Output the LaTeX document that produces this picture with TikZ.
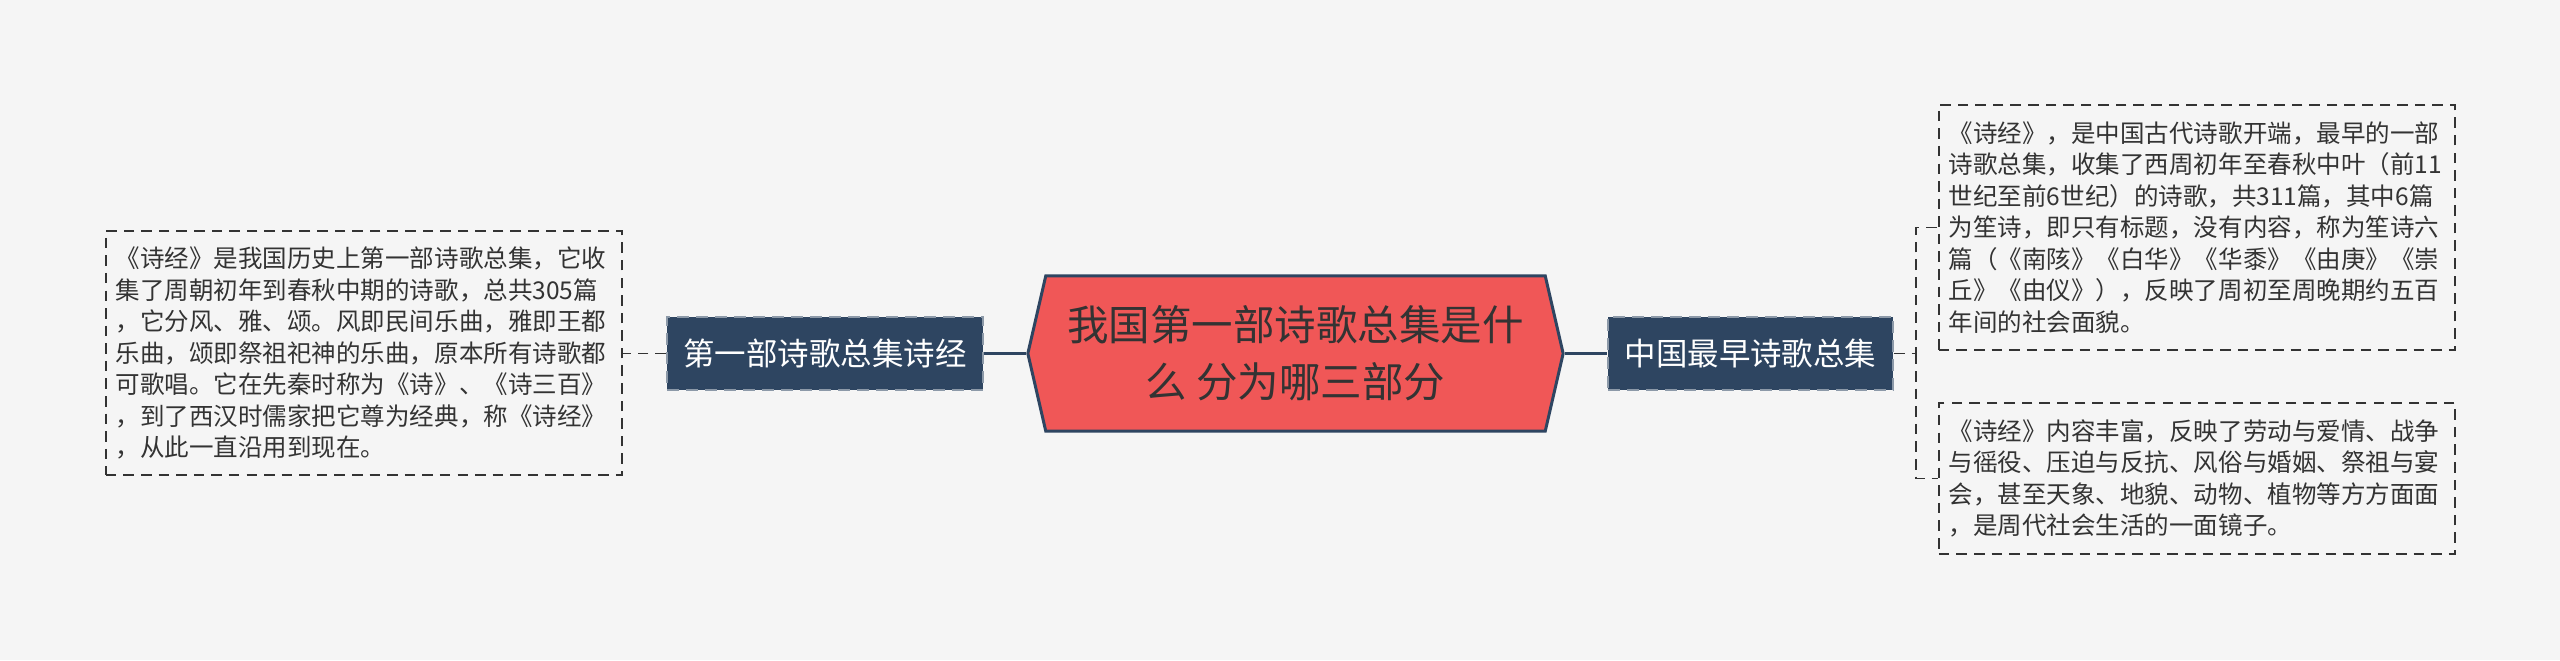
\documentclass[tikz,border=0pt]{standalone}
\usepackage{fontspec}
\setmainfont{Noto Sans CJK SC}
\usepackage{tikz}
\usetikzlibrary{calc,shapes.symbols}
\definecolor{mapbg}{HTML}{F5F5F5}
\definecolor{mapred}{HTML}{F05757}
\definecolor{mapnavy}{HTML}{2E4561}
\definecolor{maptext}{HTML}{333333}
\tikzset{
  rootnode/.style={signal,signal to=west and east,signal pointer angle=154,
    fill=mapred,draw=mapnavy,line width=0.85pt,text=maptext,align=center,
    font=\fontsize{11.8}{16.2}\selectfont,minimum width=5.35cm,minimum height=1.55cm,inner sep=0pt},
  topicnode/.style={fill=mapnavy,draw=mapnavy!55!white,dash pattern=on 3.4pt off 2pt,
    line width=0.5pt,text=white,font=\fontsize{8.95}{10}\selectfont,minimum height=0.73cm,inner sep=0pt},
  leafnode/.style={draw=maptext,dash pattern=on 3pt off 2pt,line width=0.55pt,text=maptext,
    align=left,font=\fontsize{6.97}{8.96}\selectfont,text width=4.96cm,inner xsep=0.1cm,inner ysep=0pt},
  solidlink/.style={draw=mapnavy,line width=0.8pt},
  dashlink/.style={draw=maptext,line width=0.55pt,dash pattern=on 3pt off 2pt}
}
\begin{document}
\begin{tikzpicture}[x=0.01cm,y=-0.01cm]
  \fill[mapbg] (0,0) rectangle (2560,660);
  % centre and the two topics
  \node[rootnode] (root) at (1295.5,353.5) {我国第一部诗歌总集是什\\么 分为哪三部分};
  \node[topicnode,minimum width=3.16cm] (first) at (825,353.5) {第一部诗歌总集诗经};
  \node[topicnode,minimum width=2.85cm] (second) at (1750.5,353.5) {中国最早诗歌总集};
  % leaves
  \node[leafnode,minimum height=2.44cm] (leafL) at (364,353) {%
    《诗经》是我国历史上第一部诗歌总集，它收\\
    集了周朝初年到春秋中期的诗歌，总共305篇\\
    ，它分风、雅、颂。风即民间乐曲，雅即王都\\
    乐曲，颂即祭祖祀神的乐曲，原本所有诗歌都\\
    可歌唱。它在先秦时称为《诗》、《诗三百》\\
    ，到了西汉时儒家把它尊为经典，称《诗经》\\
    ，从此一直沿用到现在。};
  \node[leafnode,minimum height=2.45cm] (leafA) at (2197,227.5) {%
    《诗经》，是中国古代诗歌开端，最早的一部\\
    诗歌总集，收集了西周初年至春秋中叶（前11\\
    世纪至前6世纪）的诗歌，共311篇，其中6篇\\
    为笙诗，即只有标题，没有内容，称为笙诗六\\
    篇（《南陔》《白华》《华黍》《由庚》《崇\\
    丘》《由仪》），反映了周初至周晚期约五百\\
    年间的社会面貌。};
  \node[leafnode,minimum height=1.51cm] (leafB) at (2197,478.5) {%
    《诗经》内容丰富，反映了劳动与爱情、战争\\
    与徭役、压迫与反抗、风俗与婚姻、祭祖与宴\\
    会，甚至天象、地貌、动物、植物等方方面面\\
    ，是周代社会生活的一面镜子。};
  \coordinate (fork) at ($(second.east)+(22,0)$);
  % links
  \draw[solidlink] (root.west) -- (first.east);
  \draw[solidlink] (root.east) -- (second.west);
  \draw[dashlink] (first.west) -- (first.west -| leafL.east);
  \draw[dashlink] (second.east) -- (fork) |- (leafA.west);
  \draw[dashlink] (fork) |- (leafB.west);
\end{tikzpicture}
\end{document}
